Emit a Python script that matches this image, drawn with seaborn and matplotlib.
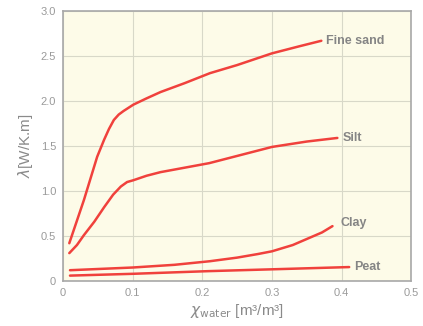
import pandas as pd
import matplotlib.pyplot as plt
import seaborn as sns

# water content [m3/m3] vs thermal conductivity [W/K.m]
fine_sand_x = [0.009, 0.03, 0.049, 0.059, 0.066, 0.073, 0.08, 0.087, 0.101, 0.12, 0.14, 0.175, 0.211, 0.25, 0.3, 0.34, 0.371]
fine_sand_y = [0.42, 0.90, 1.38, 1.57, 1.69, 1.79, 1.85, 1.89, 1.96, 2.03, 2.10, 2.20, 2.31, 2.40, 2.53, 2.61, 2.67]

silt_x = [0.009, 0.02, 0.03, 0.045, 0.059, 0.072, 0.083, 0.092, 0.101, 0.12, 0.14, 0.175, 0.21, 0.25, 0.3, 0.35, 0.394]
silt_y = [0.31, 0.40, 0.51, 0.66, 0.82, 0.96, 1.05, 1.10, 1.12, 1.17, 1.21, 1.26, 1.31, 1.39, 1.49, 1.55, 1.59]

clay_x = [0.01, 0.1, 0.16, 0.211, 0.25, 0.28, 0.3, 0.33, 0.354, 0.372, 0.387]
clay_y = [0.12, 0.15, 0.18, 0.22, 0.26, 0.30, 0.33, 0.40, 0.48, 0.54, 0.61]

peat_x = [0.01, 0.1, 0.21, 0.3, 0.411]
peat_y = [0.06, 0.08, 0.11, 0.13, 0.155]

soil_names = ["Fine sand", "Silt", "Clay", "Peat"]

frames = []
for name, xs, ys in zip(soil_names,
                        [fine_sand_x, silt_x, clay_x, peat_x],
                        [fine_sand_y, silt_y, clay_y, peat_y]):
    frames.append(pd.DataFrame({"water": xs, "lam": ys, "soil": name}))
df = pd.concat(frames, ignore_index=True)

sns.set_style("whitegrid")
plt.rcParams['font.family'] = ['Liberation Sans', 'DejaVu Sans']
plt.rcParams['lines.solid_joinstyle'] = 'round'
plt.rcParams['lines.solid_capstyle'] = 'round'

fig = plt.figure(figsize=(4.23, 3.26), dpi=100)
ax = fig.add_axes([0.149, 0.138, 0.823, 0.828])
ax.set_facecolor("#fdfbe8")

red = "#f0413c"
sns.lineplot(data=df, x="water", y="lam", units="soil", estimator=None,
             color=red, linewidth=1.8, sort=False, ax=ax)

# curve labels at line ends
ends = {"Fine sand": (0.378, 2.67), "Silt": (0.401, 1.59),
        "Clay": (0.398, 0.64), "Peat": (0.418, 0.155)}
for name, (tx, ty) in ends.items():
    ax.text(tx, ty, name, color="#858585", fontsize=9, fontweight="bold",
            va="center", ha="left")

ax.set_xlim(0, 0.496)
ax.set_ylim(0, 3.0)
ax.set_xticks([0, 0.1, 0.2, 0.3, 0.4, 0.5])
ax.set_xticklabels(["0", "0.1", "0.2", "0.3", "0.4", "0.5"])
ax.set_yticks([0, 0.5, 1.0, 1.5, 2.0, 2.5, 3.0])
ax.set_yticklabels(["0", "0.5", "1.0", "1.5", "2.0", "2.5", "3.0"])
ax.tick_params(colors="#9a9a9a", labelsize=8, length=0, pad=5)
ax.grid(True, color="#d8d8c8", linewidth=0.8)

for s in ax.spines.values():
    s.set_color("#a8a8a8")
    s.set_linewidth(1.2)

ax.set_xlabel(r"$\chi_{\rm water}$ [m³/m³]", color="#8a8a8a", fontsize=11, labelpad=3)
ax.set_ylabel(r"$\lambda$[W/K.m]", color="#8a8a8a", fontsize=11, labelpad=4)
ax.legend_ = None

fig.savefig("out.png", dpi=100, facecolor="white")
